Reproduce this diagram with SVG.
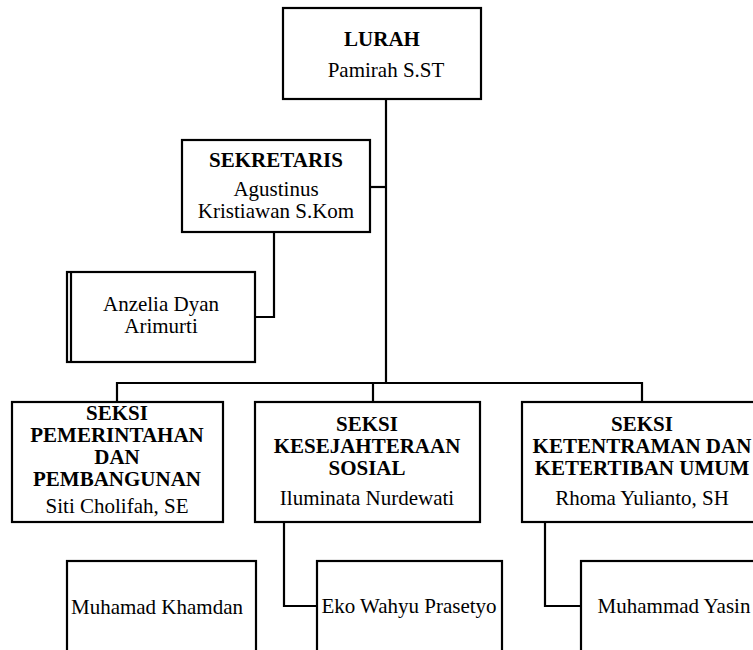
<svg xmlns="http://www.w3.org/2000/svg" width="753" height="650" viewBox="0 0 753 650">
<style>
.box{fill:#fff;stroke:#000;stroke-width:2.2}
.ln{fill:none;stroke:#000;stroke-width:2.2}
text{font-family:"Liberation Serif","Times New Roman",serif;font-size:21px;fill:#000;text-anchor:middle}
.b{font-weight:bold}
</style>
<rect width="753" height="650" fill="#fff"/>
<g id="connectors">
<path class="ln" d="M386 99V383"/>
<path class="ln" d="M370 187H386"/>
<path class="ln" d="M117 402V383H642V402"/>
<path class="ln" d="M373 383V402"/>
<path class="ln" d="M274 232V317H255"/>
<path class="ln" d="M284 522V606H317"/>
<path class="ln" d="M545 522V606H581"/>
</g>
<g id="lurah">
<rect class="box" x="283" y="8" width="198" height="91"/>
<text class="b" x="382" y="46">LURAH</text>
<text x="386" y="77">Pamirah S.ST</text>
</g>
<g id="sekretaris">
<rect class="box" x="182" y="140" width="188" height="92"/>
<text class="b" x="276" y="167">SEKRETARIS</text>
<text x="276" y="196">Agustinus</text>
<text x="276" y="218">Kristiawan S.Kom</text>
</g>
<g id="anzelia">
<rect class="box" x="67" y="272" width="188" height="90"/>
<path class="ln" d="M71 272V362"/>
<text x="161" y="311">Anzelia Dyan</text>
<text x="161" y="333">Arimurti</text>
</g>
<g id="seksi-pemerintahan">
<rect class="box" x="12" y="402" width="211" height="120"/>
<text class="b" x="117" y="420">SEKSI</text>
<text class="b" x="117" y="442">PEMERINTAHAN</text>
<text class="b" x="117" y="464">DAN</text>
<text class="b" x="117" y="486">PEMBANGUNAN</text>
<text x="117" y="513">Siti Cholifah, SE</text>
</g>
<g id="seksi-kesejahteraan">
<rect class="box" x="255" y="402" width="225" height="120"/>
<text class="b" x="367" y="431">SEKSI</text>
<text class="b" x="367" y="453">KESEJAHTERAAN</text>
<text class="b" x="367" y="475">SOSIAL</text>
<text x="367" y="505">Iluminata Nurdewati</text>
</g>
<g id="seksi-ketentraman">
<rect class="box" x="522" y="402" width="240" height="120"/>
<text class="b" x="642" y="431">SEKSI</text>
<text class="b" x="642" y="453">KETENTRAMAN DAN</text>
<text class="b" x="642" y="475">KETERTIBAN UMUM</text>
<text x="642" y="505">Rhoma Yulianto, SH</text>
</g>
<g id="muhamad-khamdan">
<rect class="box" x="67" y="561" width="189" height="100"/>
<text x="157" y="614">Muhamad Khamdan</text>
</g>
<g id="eko">
<rect class="box" x="317" y="561" width="185" height="100"/>
<text x="409" y="613">Eko Wahyu Prasetyo</text>
</g>
<g id="yasin">
<rect class="box" x="581" y="561" width="190" height="100"/>
<text x="674" y="613">Muhammad Yasin</text>
</g>
</svg>
